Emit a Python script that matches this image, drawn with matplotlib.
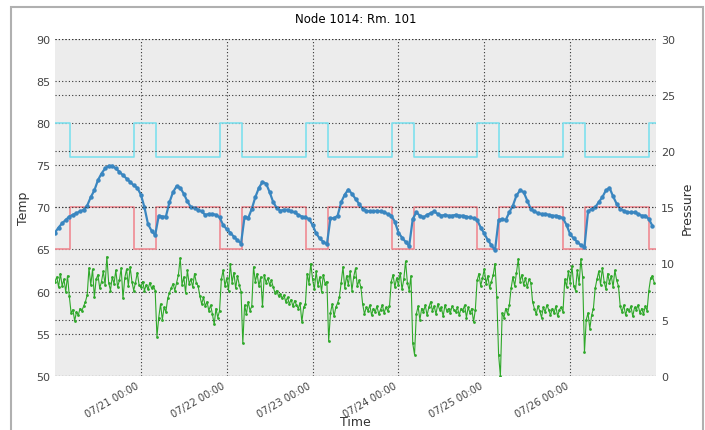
import matplotlib
matplotlib.use("Agg")
import matplotlib.pyplot as plt
import matplotlib.dates as mdates
from matplotlib.patches import Rectangle
import pandas as pd

# hourly room temperature, 07/20 00:00 .. 07/26 23:00
temp = [
    67.0, 67.6, 68.1, 68.5, 68.9, 69.1, 69.3, 69.5, 69.7, 70.2, 71.2, 72.0,
    73.2, 74.0, 74.6, 74.9, 74.9, 74.6, 74.2, 73.8, 73.4, 73.0, 72.6, 72.3,
    71.5, 70.0, 68.0, 67.2, 66.7, 69.0, 68.9, 68.9, 70.6, 71.8, 72.5, 72.3,
    71.6, 70.7, 70.0, 69.9, 69.7, 69.5, 69.1, 69.2, 69.2, 69.1, 68.8, 67.9,
    67.4, 67.0, 66.5, 66.1, 65.7, 68.9, 68.7, 69.8, 71.2, 72.3, 73.0, 72.8,
    71.8, 70.6, 69.9, 69.6, 69.7, 69.7, 69.5, 69.4, 69.1, 68.9, 68.8, 68.6,
    67.9, 66.9, 66.3, 65.9, 65.6, 68.7, 68.7, 69.0, 70.6, 71.5, 72.1, 71.6,
    71.0, 70.4, 69.8, 69.6, 69.5, 69.5, 69.6, 69.5, 69.4, 69.2, 69.0, 68.3,
    67.0, 66.4, 65.9, 65.4, 68.6, 69.4, 69.0, 68.8, 69.1, 69.3, 69.5, 69.2,
    69.0, 69.1, 69.0, 69.0, 69.1, 69.0, 69.0, 68.9, 68.8, 68.7, 68.5, 67.6,
    66.9, 66.1, 65.5, 64.9, 68.5, 68.6, 68.5, 69.4, 70.2, 71.4, 72.0, 71.8,
    70.8, 69.8, 69.5, 69.3, 69.2, 69.2, 69.1, 69.0, 69.0, 68.9, 68.7, 67.9,
    66.8, 66.3, 65.9, 65.5, 65.3, 69.5, 69.8, 70.0, 70.6, 71.2, 72.0, 72.3,
    71.3, 70.4, 69.8, 69.6, 69.4, 69.4, 69.4, 69.2, 69.0, 69.0, 68.6, 67.8,
]

# half-hourly pressure, 07/20 00:00 .. 07/26 23:30
pressure = [
    8.4, 8.8, 7.9, 9.1, 8.0, 8.6, 7.5, 8.9, 7.1, 5.6, 5.9, 4.9, 5.7, 5.4, 6.0, 5.8,
    6.2, 6.6, 7.2, 9.6, 8.1, 9.5, 7.0, 8.6, 9.0, 7.8, 8.4, 9.3, 8.1, 10.6, 8.3, 7.6,
    8.8, 8.2, 9.4, 7.9, 8.5, 9.6, 6.9, 8.7, 9.5, 8.0, 9.7, 8.4, 7.6, 8.3, 9.2, 8.1,
    7.9, 8.4, 7.6, 8.1, 7.7, 8.3, 7.8, 8.0, 7.6, 3.5, 5.2, 6.4, 5.0, 6.1, 5.7, 6.9,
    7.4, 7.8, 8.2, 7.6, 8.3, 9.0, 10.5, 8.1, 8.8, 7.4, 9.4, 8.2, 8.6, 7.9, 9.1, 8.3,
    8.0, 7.1, 6.4, 7.0, 6.2, 6.6, 5.8, 6.3, 5.5, 4.6, 6.0, 5.2, 5.8, 8.6, 9.4, 8.0,
    8.7, 7.6, 10.0, 8.3, 9.2, 7.8, 8.9, 8.1, 7.5, 2.9, 6.3, 5.5, 6.6, 5.8, 6.2, 9.7,
    8.4, 9.1, 8.0, 8.8, 6.2, 9.0, 8.3, 8.7, 8.1, 8.5, 7.9, 7.4, 7.6, 7.1, 7.3, 6.9,
    7.2, 6.6, 7.0, 6.4, 6.8, 6.2, 6.7, 6.3, 6.0, 6.5, 4.8, 6.1, 6.4, 9.1, 8.2, 10.0,
    8.6, 7.7, 9.3, 8.0, 8.8, 7.5, 9.0, 8.2, 8.4, 3.1, 5.6, 6.4, 5.3, 6.1, 6.5, 7.0,
    8.3, 9.7, 7.8, 8.9, 8.1, 9.3, 7.6, 8.8, 9.6, 8.0, 8.5, 7.9, 6.4, 5.5, 6.1, 5.8,
    6.3, 5.4, 6.0, 5.7, 6.2, 5.5, 5.9, 6.3, 5.6, 6.1, 5.8, 6.2, 8.4, 9.0, 7.9, 8.7,
    8.1, 9.2, 7.7, 8.6, 10.2, 8.3, 7.6, 8.9, 2.9, 1.9, 5.5, 6.2, 5.0, 6.0, 5.7, 6.3,
    5.4, 6.1, 6.6, 5.8, 6.2, 5.5, 6.4, 5.9, 6.1, 5.3, 6.3, 5.8, 6.0, 5.6, 6.2, 5.9,
    5.7, 6.1, 5.4, 6.0, 5.8, 6.3, 5.2, 6.1, 5.6, 6.0, 4.8, 5.9, 8.5, 9.1, 8.0, 8.7,
    9.5, 8.2, 8.9, 7.8, 8.4, 9.0, 10.0, 7.0, 1.9, 0.0, 5.6, 5.2, 6.0, 5.5, 6.3, 7.8,
    8.8, 8.0, 9.2, 10.4, 8.4, 9.0, 8.1, 8.7, 7.9, 8.6, 8.3, 6.6, 6.0, 5.5, 6.2, 5.8,
    5.2, 6.1, 5.7, 6.3, 5.9, 5.4, 6.0, 5.6, 6.2, 5.3, 5.9, 6.1, 5.7, 8.6, 7.9, 9.3,
    8.3, 9.8, 8.0, 7.6, 9.4, 8.2, 10.4, 8.8, 2.1, 5.0, 5.6, 4.2, 5.4, 6.0, 7.8, 8.6,
    9.3, 8.1, 9.6, 8.4, 7.7, 9.1, 8.3, 8.9, 7.9, 9.4, 8.5, 8.0, 6.2, 5.7, 6.3, 5.4,
    6.0, 5.8, 6.2, 5.3, 6.1, 5.9, 6.3, 5.6, 6.0, 5.5, 6.2, 5.8, 7.6, 8.7, 8.9, 8.3,
]

# setpoint schedule
days = ["2015-07-20", "2015-07-21", "2015-07-22", "2015-07-23",
        "2015-07-24", "2015-07-25", "2015-07-26"]
occ_start = "04:15"
occ_end = "22:05"
heat_occ, heat_unocc = 70, 65
cool_occ, cool_unocc = 76, 80

# x tick dates shown on the axis
tick_days = days[1:]

sched_t = [pd.Timestamp(days[0])]
heat_sp = [heat_unocc]
cool_sp = [cool_unocc]
for d in days:
    sched_t += [pd.Timestamp(d + " " + occ_start), pd.Timestamp(d + " " + occ_end)]
    heat_sp += [heat_occ, heat_unocc]
    cool_sp += [cool_occ, cool_unocc]
sched_t.append(pd.Timestamp("2015-07-27"))
heat_sp.append(heat_unocc)
cool_sp.append(cool_unocc)

t_temp = pd.date_range("2015-07-20", periods=len(temp), freq="h")
t_pres = pd.date_range("2015-07-20", periods=len(pressure), freq="30min")

fig = plt.figure(figsize=(7.05, 4.31), dpi=100)
fig.patches.append(Rectangle((11 / 705, -0.1), (703 - 11) / 705, 1.1 - 8 / 431,
                             transform=fig.transFigure, fill=False,
                             edgecolor="#b0b0b0", linewidth=1.5))
ax = fig.add_axes([55 / 705, 1 - 377 / 431, (656 - 55) / 705, (377 - 39.5) / 431])
ax.set_facecolor("#ececec")
ax2 = ax.twinx()

ax.step(sched_t, cool_sp, where="post", color="#7ee0ee", lw=1.2)
ax.step(sched_t, heat_sp, where="post", color="#f08a92", lw=1.2)
ax.plot(t_temp, temp, color="#3a86c0", lw=1.6, marker="o", ms=2.2)
ax2.plot(t_pres, pressure, color="#2fa82a", lw=0.8, marker="o", ms=2.0,
         markeredgewidth=0)

ax.set_xlim(pd.Timestamp("2015-07-20"), pd.Timestamp("2015-07-27"))
ax.set_ylim(50, 90)
ax2.set_ylim(0, 30)
ax.set_yticks(range(50, 91, 5))
ax2.set_yticks(range(0, 31, 5))
ax.set_xticks([pd.Timestamp(d) for d in tick_days])
ax.xaxis.set_major_formatter(mdates.DateFormatter("%m/%d %H:%M"))
for lbl in ax.get_xticklabels():
    lbl.set_rotation(30)
    lbl.set_ha("right")

for a in (ax, ax2):
    a.grid(True, linestyle=(0, (1, 2)), color="#333333", linewidth=0.8)
    a.tick_params(length=0, labelsize=8, labelcolor="#444444")
    for s in a.spines.values():
        s.set_visible(False)
ax2.grid(False, axis="x")
ax.tick_params(axis="x", pad=3, labelsize=7.2)
ax.set_axisbelow(True)

ax.set_title("Node 1014: Rm. 101", fontsize=8.5, pad=12)
ax.set_ylabel("Temp", fontsize=9, color="#333333")
ax2.set_ylabel("Pressure", fontsize=9, color="#333333")
ax.set_xlabel("Time", fontsize=9, color="#333333")
ax.xaxis.set_label_coords(0.5, -0.115)

fig.savefig("out.png", dpi=100)
